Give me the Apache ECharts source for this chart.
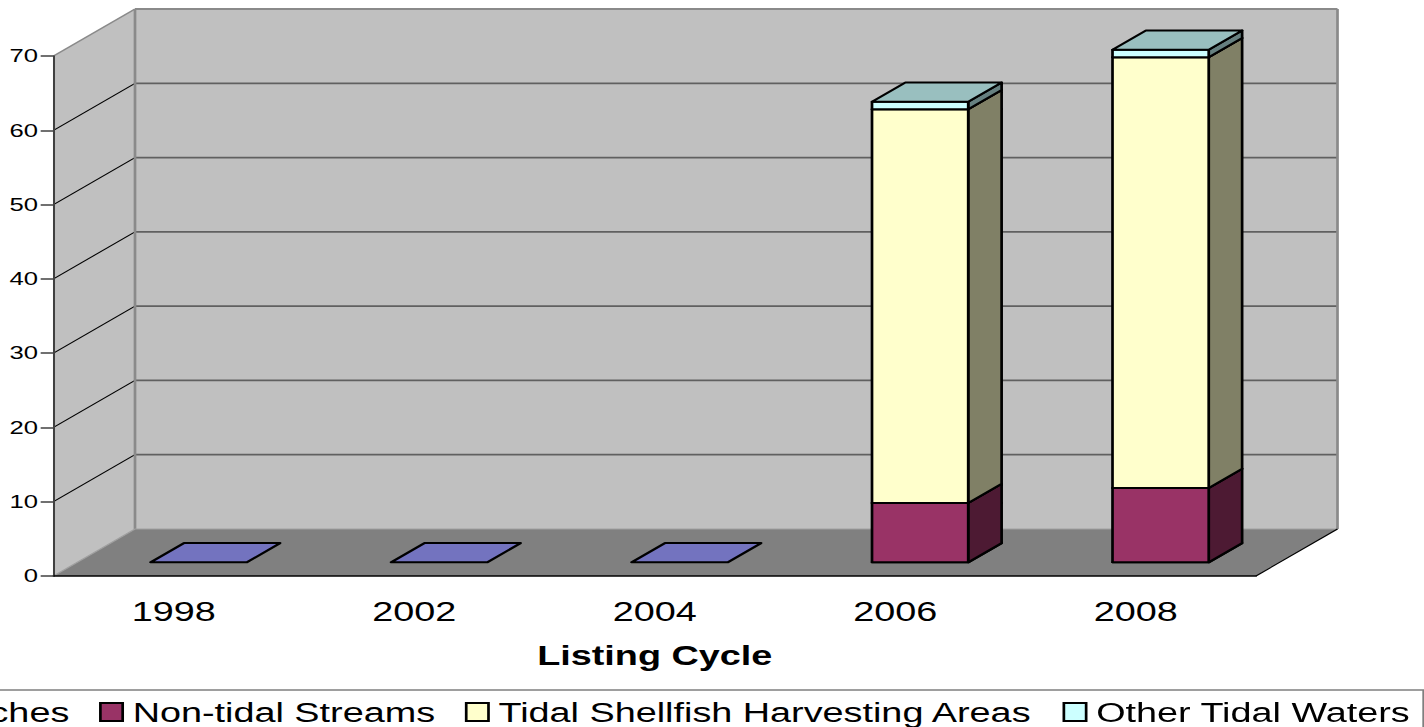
<!DOCTYPE html>
<html>
<head>
<meta charset="utf-8">
<title>Listing Cycle</title>
<script src="https://cdn.jsdelivr.net/npm/echarts@6/dist/echarts.min.js"></script>
<style>
  html, body { margin: 0; padding: 0; background: #fff; overflow: hidden; }
  #chart { height: 727px; transform-origin: 0 0; }
</style>
</head>
<body>
<div id="chart"></div>
<script>
  const categories = ["1998", "2002", "2004", "2006", "2008"];
  const yTicks = [0, 10, 20, 30, 40, 50, 60, 70];
  const beaches = [0, 0, 0, 0, 0];
  const nonTidal = [null, null, null, 8, 10];
  const tidalShellfish = [null, null, null, 53, 58];
  const otherTidal = [null, null, null, 1, 1];

  // the source picture is stretched sideways, so the whole chart is too
  const SX = 1.35;
  const W = 1424 / SX;
  const DX = 81.5 / SX;
  const DY = 47;
  const BAR_START_X = 0.305;
  const BAR_START_Y = 0.29;
  const BAR_DEPTH = 0.41;
  const BAR_WIDTH = 0.4;

  const el = document.getElementById("chart");
  el.style.width = W + "px";
  el.style.transform = "scaleX(" + SX + ")";

  const poly = (points, fill, stroke, lineWidth) => ({
    type: "polygon",
    shape: { points },
    style: { fill, stroke, lineWidth: lineWidth || 0, lineJoin: "round" },
  });
  const line = (a, b, stroke, lineWidth) => ({
    type: "line",
    shape: { x1: a[0], y1: a[1], x2: b[0], y2: b[1] },
    style: { stroke, lineWidth },
  });

  // walls, floor and the gridlines, all hung off the axis scales
  const renderWalls = (params, api) => {
    const band = api.size([1, 0])[0];
    const x0 = api.coord([0, 0])[0] - band / 2;
    const x1 = api.coord([categories.length - 1, 0])[0] + band / 2;
    const top = yTicks[yTicks.length - 1];
    const y0 = api.coord([0, 0])[1];
    const yT = api.coord([0, top])[1];
    const children = [
      poly([[x0, y0], [x0 + DX, y0 - DY], [x0 + DX, yT - DY], [x0, yT]], "#c0c0c0"),
      poly([[x0 + DX, y0 - DY], [x1 + DX, y0 - DY], [x1 + DX, yT - DY], [x0 + DX, yT - DY]], "#c0c0c0"),
      poly([[x0, y0], [x0 + DX, y0 - DY], [x1 + DX, y0 - DY], [x1, y0]], "#808080"),
    ];
    yTicks.slice(1, -1).forEach((v) => {
      const y = api.coord([0, v])[1];
      children.push(line([x0, y], [x0 + DX, y - DY], "#000", 1));
      children.push(line([x0 + DX, y - DY], [x1 + DX, y - DY], "#606060", 1.8));
    });
    children.push(line([x0, yT], [x0 + DX, yT - DY], "#8a8a8a", 1.5));
    children.push(line([x0 + DX, yT - DY], [x1 + DX, yT - DY], "#8a8a8a", 2));
    children.push(line([x0 + DX, yT - DY], [x0 + DX, y0 - DY], "#8a8a8a", 2));
    children.push(line([x1 + DX, yT - DY], [x1 + DX, y0 - DY], "#8a8a8a", 2));
    children.push(line([x0 + DX, y0 - DY], [x1 + DX, y0 - DY], "#a0a0a0", 1));
    children.push(line([x0, y0], [x0 + DX, y0 - DY], "#a0a0a0", 1));
    children.push(line([x1, y0], [x1 + DX, y0 - DY], "#000", 1));
    return { type: "group", silent: true, children };
  };

  const renderBar = (front, side, topFace) => (params, api) => {
    const base = api.value(1);
    const end = api.value(2);
    if (isNaN(base) || isNaN(end)) return null;
    const band = api.size([1, 0])[0];
    const cx = api.coord([api.value(0), 0])[0];
    const w = band * BAR_WIDTH;
    const ox = DX * BAR_START_X;
    const oy = DY * BAR_START_Y;
    const dx = DX * BAR_DEPTH;
    const dy = DY * BAR_DEPTH;
    const l = cx - w / 2 + ox;
    const r = l + w;
    const yb = api.coord([0, base])[1] - oy;
    const yt = api.coord([0, end])[1] - oy;
    const children = [];
    if (end > base) {
      children.push(poly([[r, yb], [r + dx, yb - dy], [r + dx, yt - dy], [r, yt]], side, "#000", 2));
      children.push(poly([[l, yb], [r, yb], [r, yt], [l, yt]], front, "#000", 2));
    }
    children.push(poly([[l, yt], [l + dx, yt - dy], [r + dx, yt - dy], [r, yt]], topFace, "#000", 2));
    return { type: "group", silent: true, children };
  };

  // stacks are summed here because custom series do not stack
  const layers = [beaches, nonTidal, tidalShellfish, otherTidal];
  const stacked = (idx) =>
    categories.map((c, i) => {
      if (layers[idx][i] === null) return [i, NaN, NaN];
      const base = layers.slice(0, idx).reduce((s, a) => s + (a[i] || 0), 0);
      return [i, base, base + layers[idx][i]];
    });

  const barSeries = (name, idx, front, side, topFace) => ({
    name,
    type: "custom",
    z: 2,
    encode: { x: 0, y: [1, 2] },
    data: stacked(idx),
    itemStyle: { color: front, borderColor: "#000", borderWidth: 1.5 },
    renderItem: renderBar(front, side, topFace),
  });

  const myChart = echarts.init(el, null, { renderer: "svg", width: W, height: 727 });
  const option = {
    animation: false,
    backgroundColor: "#fff",
    textStyle: { fontFamily: "Liberation Sans" },
    grid: { left: 53.5 / SX, right: W - 1256 / SX, top: 56, bottom: 151 },
    legend: {
      data: ["Beaches", "Non-tidal Streams", "Tidal Shellfish Harvesting Areas", "Other Tidal Waters"],
      icon: "rect",
      left: -88.5,
      top: 690,
      width: 1300,
      padding: [8, 9.5, 30, 6],
      itemWidth: 16.5,
      itemHeight: 18,
      itemGap: 22,
      backgroundColor: "#fff",
      borderColor: "#7f7f7f",
      borderWidth: 1.5,
      selectedMode: false,
      textStyle: { fontSize: 28, color: "#000", padding: [0, 0, 0, 2.4], fontFamily: "Liberation Sans" },
    },
    xAxis: {
      type: "category",
      data: categories,
      z: 5,
      name: "Listing Cycle",
      nameLocation: "middle",
      nameGap: 65,
      nameTextStyle: { fontSize: 28, fontWeight: "bold", color: "#000", fontFamily: "Liberation Sans" },
      axisLine: { lineStyle: { color: "#000", width: 1.5 } },
      axisTick: { length: 10, lineStyle: { color: "#404040", width: 1 } },
      axisLabel: { fontSize: 28, color: "#000", margin: 21, fontFamily: "Liberation Sans" },
      splitLine: { show: false },
    },
    yAxis: {
      type: "value",
      min: 0,
      max: 70,
      interval: 10,
      z: 5,
      axisLine: { show: true, lineStyle: { color: "#404040", width: 1.5 } },
      axisTick: { show: true, length: 9.5, lineStyle: { color: "#404040", width: 1.5 } },
      axisLabel: { fontSize: 19, color: "#000", margin: 11.5, fontFamily: "Liberation Sans" },
      splitLine: { show: false },
    },
    series: [
      { name: "walls", type: "custom", z: 1, data: [[0, 0]], renderItem: renderWalls },
      barSeries("Beaches", 0, "#9999ff", "#4d4d80", "#7373bf"),
      barSeries("Non-tidal Streams", 1, "#993366", "#4d1a33", "#73264d"),
      barSeries("Tidal Shellfish Harvesting Areas", 2, "#ffffcc", "#808066", "#bfbf99"),
      barSeries("Other Tidal Waters", 3, "#ccffff", "#668080", "#99bfbf"),
    ],
  };
  myChart.setOption(option);
</script>
</body>
</html>
